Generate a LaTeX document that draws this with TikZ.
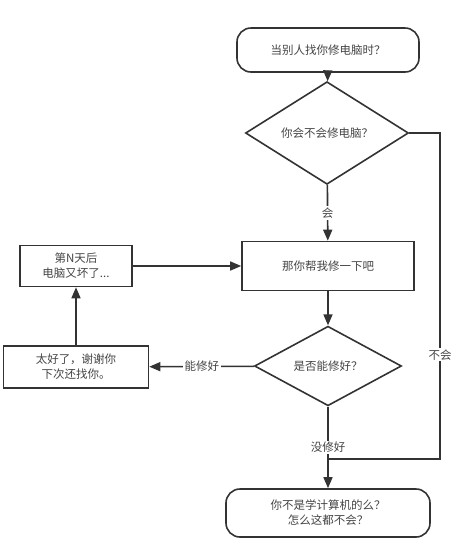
\documentclass[tikz,border=0pt]{standalone}
\usepackage{fontspec}
\newfontfamily\cjk{Noto Sans CJK SC}
\usetikzlibrary{arrows.meta,shapes.geometric}
\definecolor{ink}{HTML}{333333}
\definecolor{txt}{HTML}{444444}
\tikzset{
  >={Triangle[length=11pt,width=9pt]},
  every node/.style={font=\cjk\fontsize{11.5}{15}\selectfont, text=txt, align=center},
  term/.style={draw, rounded corners=14pt, inner sep=0pt},
  box/.style={draw, inner sep=0pt},
  ask/.style={draw, diamond, inner sep=0pt},
  lab/.style={fill=white, inner sep=1.5pt}
}
\begin{document}
\begin{tikzpicture}[x=1pt,y=-1pt,draw=ink,line width=1.6pt]
\useasboundingbox (0,0) rectangle (455,539);
\node[term, minimum width=182pt, minimum height=44pt] (1) at (328,50) {当别人找你修电脑时？};
\node[ask, minimum width=163pt, minimum height=70pt] (2) at (327,133) {你会不会修电脑？};
\node[box, minimum width=172pt, minimum height=49pt] (3) at (328,266) {那你帮我修一下吧};
\node[ask, minimum width=147pt, minimum height=72pt] (4) at (328,366) {是否能修好？};
\node[term, minimum width=204pt, minimum height=48pt] (5) at (328,513) {你不是学计算机的么？\\怎么这都不会？};
\node[box, minimum width=112pt, minimum height=41pt] (b3) at (76,266) {第N天后\\电脑又坏了...};
\node[box, minimum width=145pt, minimum height=42pt] (b4) at (76,367) {太好了，谢谢你\\下次还找你。};
\coordinate (r) at (440,459);
\coordinate (j) at (328,459);
\draw[->] (1) to (2);
\draw[->] (2) to node[lab]{会} (3);
\draw[->] (3) to (4);
\draw[->] (4) to node[lab]{没修好} (5);
\draw[->] (4) to node[lab]{能修好} (b4);
\draw[->] (b4) to (b3);
\draw[->] (b3) to (3);
\draw (2.east) -| node[lab, pos=0.84]{不会} (r) -- (j);
\end{tikzpicture}
\end{document}
